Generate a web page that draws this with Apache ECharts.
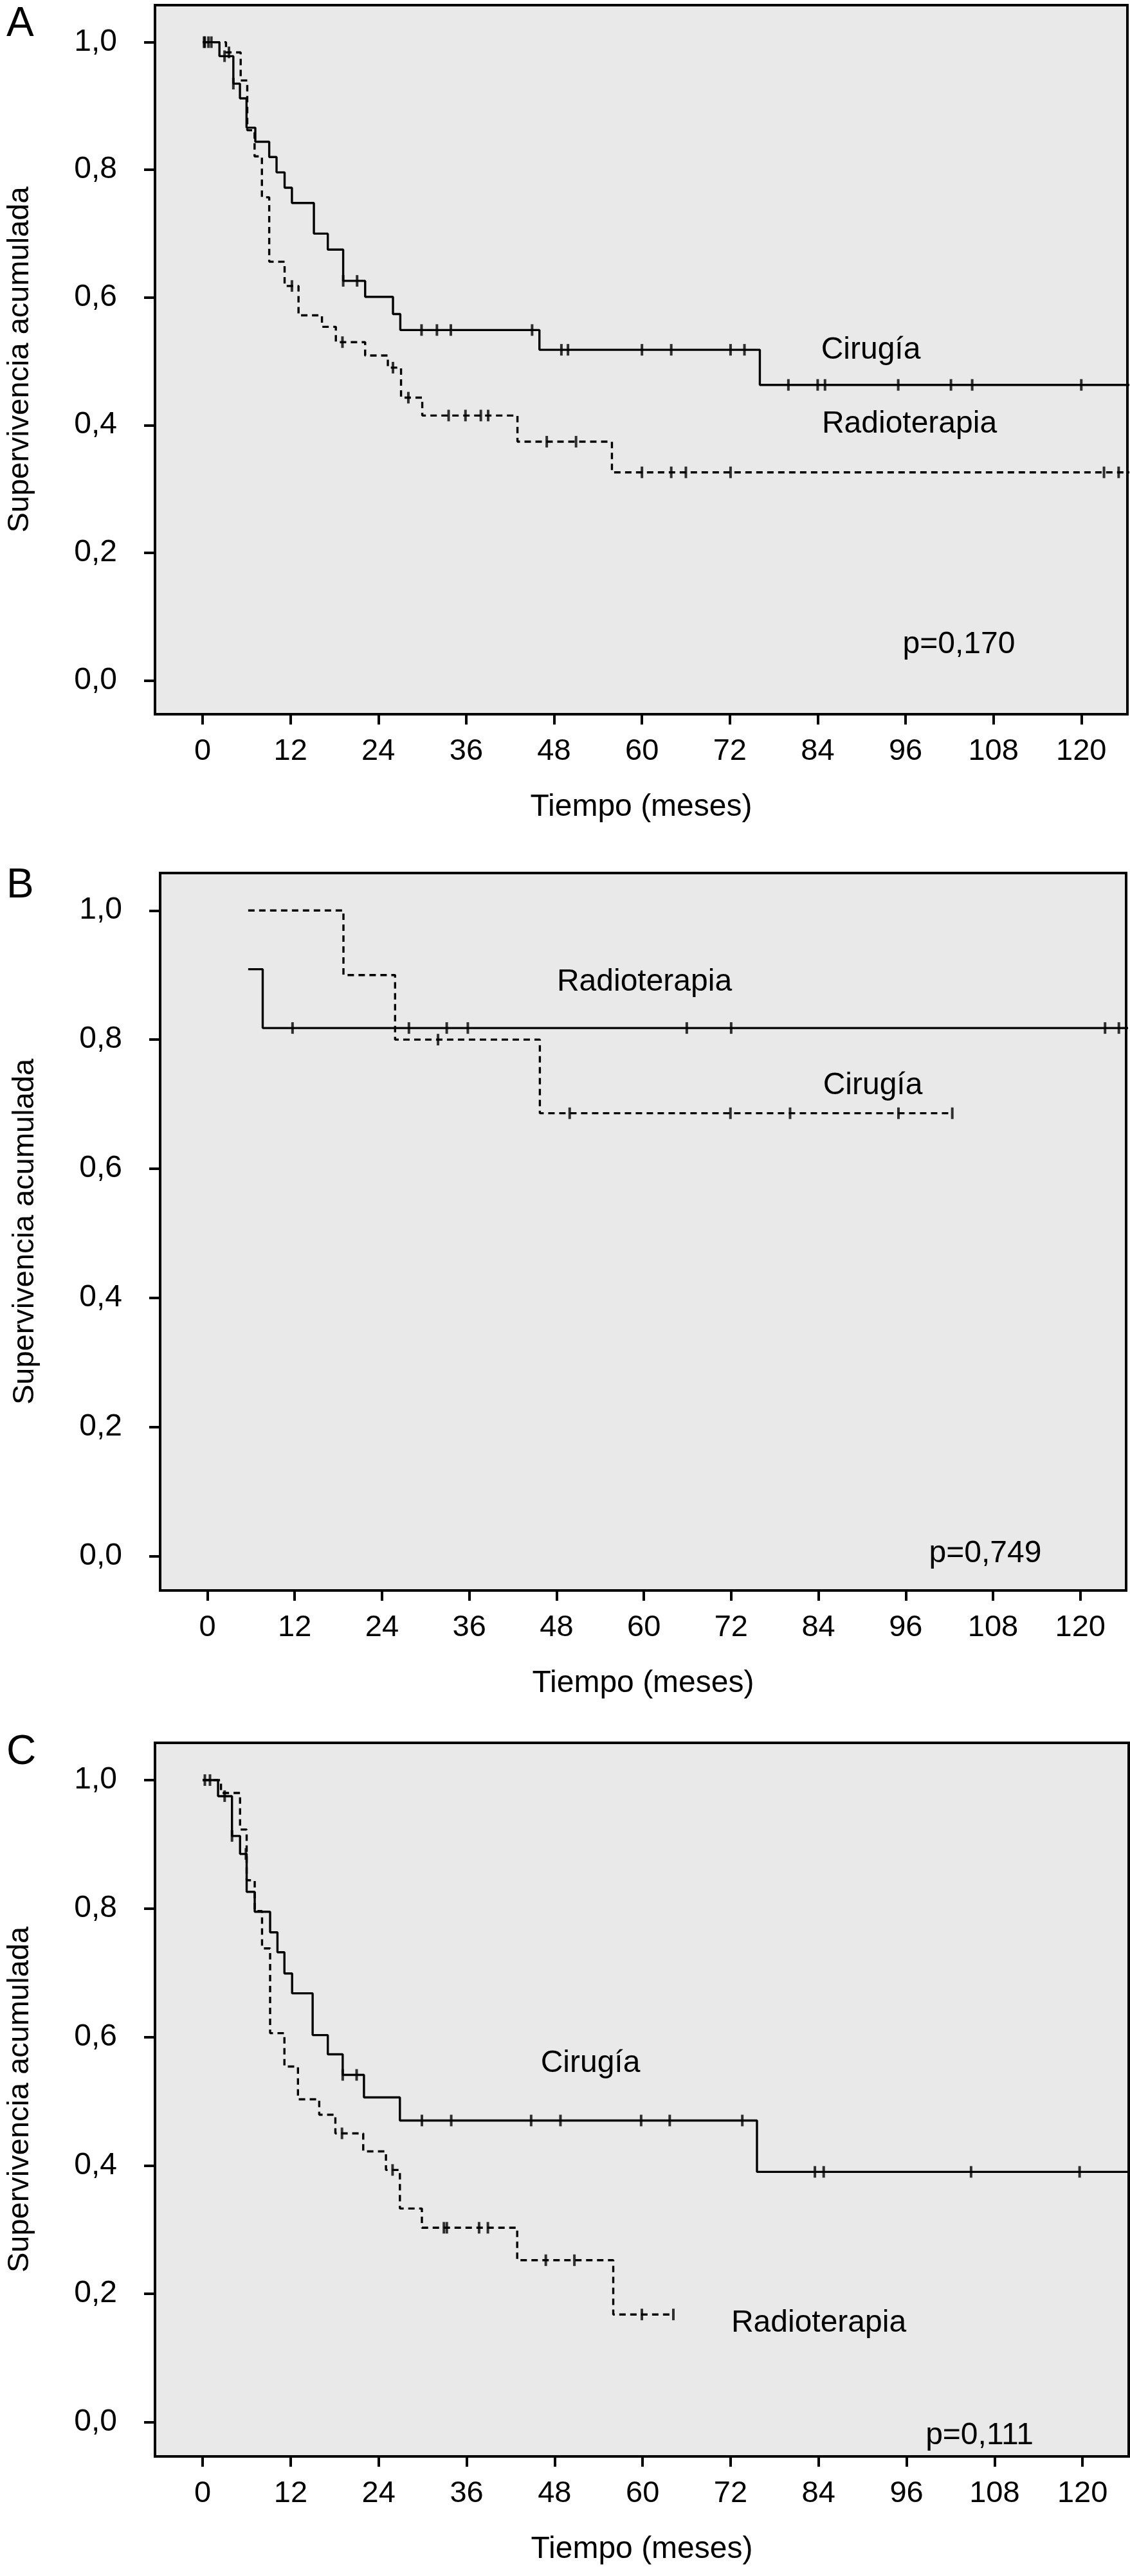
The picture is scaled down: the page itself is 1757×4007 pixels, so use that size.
<!DOCTYPE html>
<html><head><meta charset="utf-8">
<script src="https://cdn.jsdelivr.net/npm/echarts@6/dist/echarts.min.js"></script>
<style>html,body{margin:0;padding:0;background:#fff}#c{width:1757px;height:4007px}</style>
</head><body><div id="c"></div>
<script>
// ---- tick labels ----
const X_TICKS = [0, 12, 24, 36, 48, 60, 72, 84, 96, 108, 120];
const Y_TICKS = [0, 0.2, 0.4, 0.6, 0.8, 1.0];

// ---- Panel A ----
const A_cirugia_t = [0, 2.3, 4.2, 5.1, 6.0, 7.2, 9.1, 10.1, 11.2, 12.2, 15.2, 17.1, 19.2, 22.2, 26.0, 27.0, 46.0, 76.1, 128];
const A_cirugia_s = [1, 0.978, 0.935, 0.912, 0.866, 0.844, 0.820, 0.796, 0.772, 0.748, 0.700, 0.675, 0.626, 0.601, 0.574, 0.549, 0.518, 0.463, 0.463];
const A_cirugia_cens = [0.3, 1.2, 3.0, 4.2, 19.2, 21.1, 29.9, 32.0, 33.9, 45.0, 49.0, 49.9, 60.0, 64.0, 72.1, 74.0, 80.0, 84.0, 85.0, 95.0, 102.2, 105.1, 120.0];
const A_radio_t = [0, 3.2, 5.2, 6.1, 7.1, 8.1, 9.1, 11.2, 13.1, 16.3, 18.2, 22.2, 25.3, 27.1, 30.0, 43.0, 55.9, 128];
const A_radio_s = [1, 0.984, 0.940, 0.862, 0.821, 0.757, 0.656, 0.618, 0.572, 0.554, 0.530, 0.509, 0.490, 0.443, 0.415, 0.374, 0.326, 0.326];
const A_radio_cens = [0.2, 0.8, 3.6, 12.2, 19.1, 26.0, 28.1, 33.6, 35.9, 38.0, 39.0, 47.0, 51.0, 60.0, 64.0, 66.0, 72.1, 123.1, 125.1];

// ---- Panel B ----
const B_radio_t = [5.6, 7.6, 128];
const B_radio_s = [0.909, 0.818, 0.818];
const B_radio_cens = [11.7, 27.7, 32.9, 35.8, 65.9, 72.0, 123.4, 125.3];
const B_cirugia_t = [5.6, 18.7, 25.8, 45.7, 102.4];
const B_cirugia_s = [1, 0.9, 0.8, 0.686, 0.686];
const B_cirugia_cens = [31.7, 49.8, 71.9, 80.1, 95.0, 102.4];

// ---- Panel C ----
const C_cirugia_t = [0, 2.1, 4.0, 5.1, 6.0, 7.1, 9.2, 10.2, 11.15, 12.2, 15.0, 17.07, 19.1, 22.0, 26.9, 75.6, 128];
const C_cirugia_s = [1, 0.975, 0.913, 0.885, 0.826, 0.795, 0.763, 0.732, 0.699, 0.668, 0.603, 0.573, 0.541, 0.506, 0.470, 0.390, 0.390];
const C_cirugia_cens = [0.3, 1.0, 3.0, 4.0, 5.9, 19.1, 21.0, 29.9, 33.9, 44.8, 48.8, 59.8, 63.7, 73.6, 83.5, 84.7, 104.8, 119.6];
const C_radio_t = [0, 2.5, 5.1, 6.0, 7.1, 8.1, 9.2, 11.15, 13.0, 15.9, 18.1, 21.9, 25.0, 26.9, 29.9, 42.9, 56.0, 64.2];
const C_radio_s = [1, 0.980, 0.923, 0.844, 0.796, 0.738, 0.606, 0.554, 0.503, 0.479, 0.450, 0.422, 0.393, 0.333, 0.303, 0.2525, 0.168, 0.168];
const C_radio_cens = [19.0, 25.9, 32.9, 33.3, 37.7, 38.9, 46.8, 50.7, 59.9, 64.2];

// ---- helpers ----
const FONT = "'Liberation Sans', Arial, Helvetica, sans-serif";
function pairs(ts, ss) { return ts.map((t, i) => [t, ss[i]]); }
function survAt(t, ts, ss) { let v = ss[0]; for (let i = 0; i < ts.length; i++) { if (ts[i] <= t) v = ss[i]; } return v; }
function censPts(cs, ts, ss) { return cs.map(t => [t, survAt(t, ts, ss)]); }

const grids = [
  { left: 240, top: 8, width: 1513, height: 1103 },
  { left: 249, top: 1358, width: 1502, height: 1116 },
  { left: 241, top: 2711, width: 1514, height: 1110 }
];
const panels = [
  { solid: ['Cirugía', A_cirugia_t, A_cirugia_s, A_cirugia_cens], dashed: ['Radioterapia', A_radio_t, A_radio_s, A_radio_cens] },
  { solid: ['Radioterapia', B_radio_t, B_radio_s, B_radio_cens], dashed: ['Cirugía', B_cirugia_t, B_cirugia_s, B_cirugia_cens] },
  { solid: ['Cirugía', C_cirugia_t, C_cirugia_s, C_cirugia_cens], dashed: ['Radioterapia', C_radio_t, C_radio_s, C_radio_cens] }
];

const option = {
  animation: false,
  backgroundColor: '#ffffff',
  title: [
    { text: 'A', left: 10, top: 6 },
    { text: 'B', left: 10, top: 1346 },
    { text: 'C', left: 10, top: 2694 }
  ].map(t => Object.assign(t, { padding: 0, textStyle: { fontFamily: FONT, fontSize: 64, fontWeight: 'normal', color: '#000' } })),
  grid: grids.map(g => Object.assign({}, g, { show: true, backgroundColor: '#e9e9e9', borderColor: '#000', borderWidth: 4, containLabel: false })),
  xAxis: grids.map((g, i) => ({
    type: 'value', gridIndex: i, min: -6.5, max: 126.3, position: 'bottom',
    name: 'Tiempo (meses)', nameLocation: 'middle', nameGap: 121,
    nameTextStyle: { fontFamily: FONT, fontSize: 48, color: '#000' },
    axisLine: { show: false, onZero: false },
    axisTick: { show: true, customValues: X_TICKS, length: 16, lineStyle: { color: '#000', width: 4 } },
    axisLabel: { customValues: X_TICKS, margin: 35, fontFamily: FONT, fontSize: 47, color: '#000' },
    splitLine: { show: false }
  })),
  yAxis: grids.map((g, i) => ({
    type: 'value', gridIndex: i, min: -0.053, max: 1.058, position: 'left',
    name: 'Supervivencia acumulada', nameLocation: 'middle', nameGap: 186,
    nameTextStyle: { fontFamily: FONT, fontSize: 47, color: '#000' },
    axisLine: { show: false, onZero: false },
    axisTick: { show: true, customValues: Y_TICKS, length: 17, lineStyle: { color: '#000', width: 4 } },
    axisLabel: { customValues: Y_TICKS, margin: 59, fontFamily: FONT, fontSize: 48, color: '#000',
      formatter: v => Number(v).toFixed(1).replace('.', ',') },
    splitLine: { show: false }
  })),
  series: [],
  graphic: []
};

panels.forEach((p, i) => {
  [['solid', 'solid'], ['dashed', [10, 7]]].forEach(([key, dash]) => {
    const [name, ts, ss, cs] = p[key];
    option.series.push({
      type: 'line', name: name, xAxisIndex: i, yAxisIndex: i, step: 'end',
      symbol: 'none', showSymbol: false, silent: true, z: 3,
      lineStyle: { color: '#000', width: 3.4, type: dash },
      data: pairs(ts, ss)
    });
    option.series.push({
      type: 'scatter', name: name + ' (censurado)', xAxisIndex: i, yAxisIndex: i,
      symbol: 'rect', symbolSize: [4, 18], silent: true, z: 4,
      itemStyle: { color: '#000' },
      data: censPts(cs, ts, ss)
    });
  });
});

const notes = [
  { text: 'Cirugía', x: 1354, y: 545 },
  { text: 'Radioterapia', x: 1414, y: 660 },
  { text: 'p=0,170', x: 1491, y: 1003 },
  { text: 'Radioterapia', x: 1002, y: 1528 },
  { text: 'Cirugía', x: 1357, y: 1689 },
  { text: 'p=0,749', x: 1532, y: 2417 },
  { text: 'Cirugía', x: 918, y: 3210 },
  { text: 'Radioterapia', x: 1273, y: 3614 },
  { text: 'p=0,111', x: 1523, y: 3789 }
];
option.graphic = notes.map(n => ({
  type: 'text', x: n.x, y: n.y, z: 10,
  style: { text: n.text, fill: '#000', font: '48px ' + FONT, textAlign: 'center', textVerticalAlign: 'middle' }
}));

const chart = echarts.init(document.getElementById('c'), null, { renderer: 'canvas' });
chart.setOption(option);
</script>
</body></html>
